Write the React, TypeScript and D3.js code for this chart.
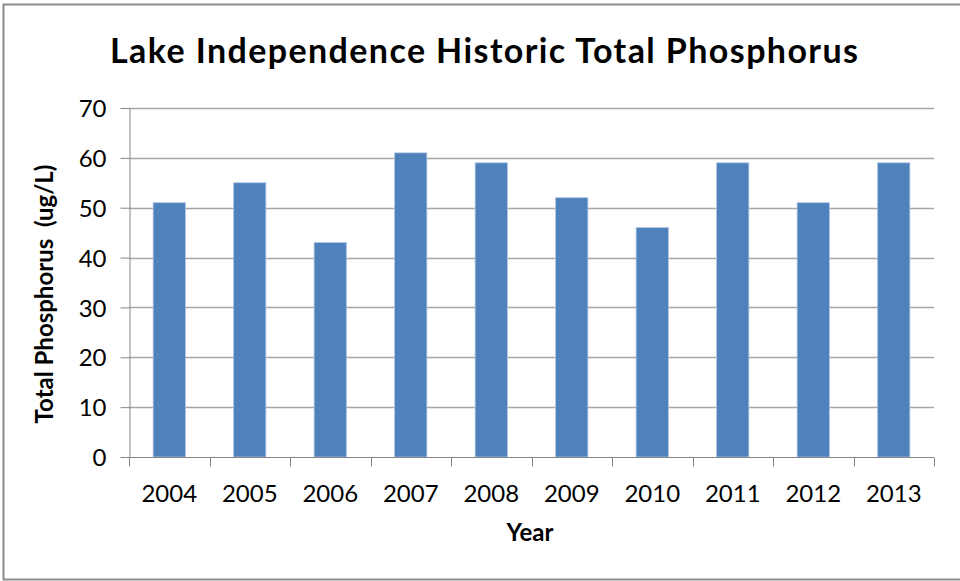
import React, { useEffect, useRef } from "react";
import * as d3 from "d3";

const years = ["2004", "2005", "2006", "2007", "2008", "2009", "2010", "2011", "2012", "2013"];
const phosphorus = [51, 55, 43, 61, 59, 52, 46, 59, 51, 59];
const yTicks = [0, 10, 20, 30, 40, 50, 60, 70];

const W = 960;
const H = 581;
const margin = { top: 108, right: 26, bottom: 124, left: 129 };
const FONT = "Lato, 'Open Sans', sans-serif";

export default function App() {
  const ref = useRef<SVGSVGElement>(null);

  useEffect(() => {
    const svg = d3.select(ref.current);
    svg.selectAll("*").remove();

    const innerW = W - margin.left - margin.right;
    const innerH = H - margin.top - margin.bottom;

    const x = d3.scaleBand().domain(years).range([0, innerW]).paddingInner(0.6).paddingOuter(0.3);
    const y = d3.scaleLinear().domain([0, 70]).range([innerH, 0]);

    // outer frame
    svg.append("rect")
      .attr("x", 3.5).attr("y", 4.5)
      .attr("width", W).attr("height", 575)
      .attr("fill", "#fff").attr("stroke", "#8a8a8a").attr("stroke-width", 2);

    svg.append("text")
      .attr("x", 484).attr("y", 63)
      .attr("text-anchor", "middle")
      .attr("font-family", FONT).attr("font-weight", "bold").attr("font-size", 34)
      .attr("textLength", 748).attr("lengthAdjust", "spacing")
      .attr("fill", "#000")
      .text("Lake Independence Historic Total Phosphorus");

    const g = svg.append("g").attr("transform", `translate(${margin.left},${margin.top})`);

    // gridlines
    g.selectAll("line.grid").data(yTicks.filter(t => t > 0)).enter().append("line")
      .attr("class", "grid")
      .attr("x1", 0).attr("x2", innerW)
      .attr("y1", d => Math.round(y(d)) + 0.5).attr("y2", d => Math.round(y(d)) + 0.5)
      .attr("stroke", "#a6a6a6").attr("stroke-width", 1.3);

    // bars
    g.selectAll("rect.bar").data(phosphorus).enter().append("rect")
      .attr("class", "bar")
      .attr("x", (d, i) => x(years[i])!)
      .attr("y", d => y(d))
      .attr("width", x.bandwidth())
      .attr("height", d => innerH - y(d))
      .attr("fill", "#4f81bd")
      .attr("stroke", "#a9c1e0").attr("stroke-width", 0.8);

    // y axis
    const yAxis = d3.axisLeft(y).tickValues(yTicks).tickSize(9).tickPadding(14).tickSizeOuter(0);
    const ya = g.append("g").attr("transform", "translate(0.5,0)").call(yAxis);
    ya.select(".domain").attr("stroke", "#868686");
    ya.selectAll(".tick line").attr("stroke", "#868686");
    ya.selectAll(".tick text")
      .attr("font-family", FONT).attr("font-size", 24).attr("fill", "#000").attr("dy", "0.36em");

    // x axis with ticks at category boundaries
    const step = innerW / years.length;
    const xa = g.append("g").attr("transform", `translate(0,${innerH + 0.5})`);
    xa.append("line").attr("x1", 0).attr("x2", innerW).attr("stroke", "#868686");
    xa.selectAll("line.tk").data(d3.range(years.length + 1)).enter().append("line")
      .attr("class", "tk")
      .attr("x1", i => Math.round(i * step) + 0.5).attr("x2", i => Math.round(i * step) + 0.5)
      .attr("y1", 0).attr("y2", 9)
      .attr("stroke", "#868686");
    xa.selectAll("text").data(years).enter().append("text")
      .attr("x", d => x(d)! + x.bandwidth() / 2)
      .attr("y", 44)
      .attr("text-anchor", "middle")
      .attr("font-family", FONT).attr("font-size", 24).attr("fill", "#000")
      .text(d => d);

    svg.append("text")
      .attr("x", 530).attr("y", 541)
      .attr("text-anchor", "middle")
      .attr("font-family", FONT).attr("font-weight", "bold").attr("font-size", 24)
      .text("Year");

    svg.append("text")
      .attr("transform", "translate(53,294) rotate(-90)")
      .attr("text-anchor", "middle")
      .attr("font-family", FONT).attr("font-weight", "bold").attr("font-size", 24)
      .style("white-space", "pre")
      .text("Total Phosphorus  (ug/L)");
  }, []);

  return (
    <svg ref={ref} width={W} height={H}
      style={{ position: "absolute", left: 0, top: 0, background: "#fff" }} />
  );
}
